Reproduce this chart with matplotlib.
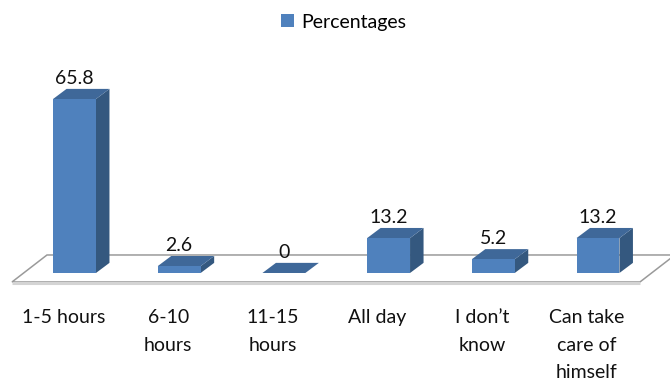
import matplotlib
matplotlib.use("Agg")
import matplotlib.pyplot as plt
from matplotlib.patches import Polygon

# Data
categories = ["1-5 hours", "6-10\nhours", "11-15\nhours", "All day",
              "I don\u2019t\nknow", "Can take\ncare of\nhimself"]
percentages = [65.8, 2.6, 0, 13.2, 5.2, 13.2]
series_name = "Percentages"

# Styling
FRONT = "#4F81BD"
TOP = "#3F6899"
SIDE = "#34587F"
FONT = ["Lato", "DejaVu Sans"]
FS = 14

plt.rcParams["font.family"] = FONT

fig = plt.figure(figsize=(6.7, 3.81), dpi=100)
ax = fig.add_axes([0, 0, 1, 1])
ax.set_xlim(-0.7116, 5.688)
ax.set_ylim(-40.85, 103.25)
ax.axis("off")

# oblique depth of the 3-D look (in data units)
bar_w = 0.41
dx, dy = 0.129, 3.83
floor_front, floor_back = -3.40, 6.81
floor_dx = 0.334
floor_left, floor_right = -0.597, 5.401

# floor plate
floor = Polygon([(floor_left, floor_front), (floor_right, floor_front),
                 (floor_right + floor_dx, floor_back),
                 (floor_left + floor_dx, floor_back)],
                closed=True, facecolor="white", edgecolor="#9a9a9a",
                linewidth=1.1, zorder=1)
ax.add_patch(floor)
ax.plot([floor_left, floor_right], [floor_front - 0.45, floor_front - 0.45],
        color="#d4d4d4", linewidth=2.2, zorder=1, solid_capstyle="butt")

xs = list(range(len(categories)))

# bars: front faces through ax.bar, depth faces added as polygons
bars = ax.bar(xs, percentages, width=bar_w, color=FRONT, linewidth=0,
              zorder=3, label=series_name)
for x, v in zip(xs, percentages):
    l, r = x - bar_w / 2, x + bar_w / 2
    side = Polygon([(r, 0), (r + dx, dy), (r + dx, v + dy), (r, v)],
                   closed=True, facecolor=SIDE, edgecolor="none", zorder=2)
    top = Polygon([(l, v), (r, v), (r + dx, v + dy), (l + dx, v + dy)],
                  closed=True, facecolor=TOP, edgecolor="none", zorder=2)
    ax.add_patch(side)
    ax.add_patch(top)
    ax.text(x, v + 7.7, f"{v:g}", ha="center", va="center", fontsize=FS,
            color="#111111", zorder=4)

# category labels, one line per row
row_y = [-17.0, -27.6, -37.8]
for x, lab in zip(xs, categories):
    for k, line in enumerate(lab.split("\n")):
        ax.text(x - 0.105, row_y[k], line, ha="center", va="center",
                fontsize=FS, color="#111111")

leg = ax.legend(handles=[bars], loc="center", bbox_to_anchor=(0.513, 0.942),
                frameon=False, fontsize=FS, handlelength=0.65,
                handleheight=0.65, handletextpad=0.35)

fig.savefig("out.png", dpi=100)
